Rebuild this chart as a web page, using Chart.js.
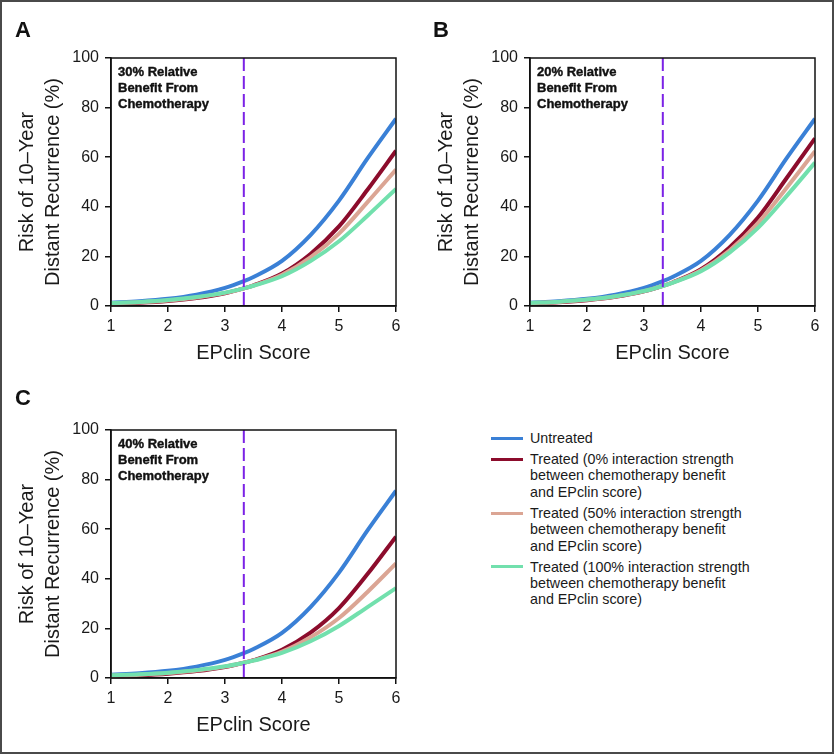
<!DOCTYPE html>
<html>
<head>
<meta charset="utf-8">
<script src="https://cdn.jsdelivr.net/npm/chart.js@4.4.1/dist/chart.umd.min.js"></script>
<style>
  body { margin: 0; background: #fff; font-family: "Liberation Sans", Arial, sans-serif; color: #1a1a1a; }
  #frame { position: absolute; left: 0; top: 0; width: 834px; height: 754px; border: 2px solid #4a4a4a; box-sizing: border-box; }
  .panel { position: absolute; width: 415px; height: 372px; }
  .letter { position: absolute; font-weight: bold; font-size: 22px; line-height: 24px; color: #111; }
  #legend { position: absolute; left: 491px; top: 430px; font-size: 14.3px; line-height: 16.4px; }
  .item { display: flex; align-items: flex-start; margin-bottom: 4.6px; }
  .swatch { width: 32px; height: 3px; margin-top: 6.7px; margin-right: 7px; flex: none; }
</style>
</head>
<body>
<div id="frame"></div>
<div class="panel" style="left:0;top:0"><canvas id="chartA" width="415" height="372"></canvas></div>
<div class="panel" style="left:419px;top:0"><canvas id="chartB" width="415" height="372"></canvas></div>
<div class="panel" style="left:0;top:372px"><canvas id="chartC" width="415" height="372"></canvas></div>
<div class="letter" style="left:15px;top:18px">A</div>
<div class="letter" style="left:433px;top:18px">B</div>
<div class="letter" style="left:15px;top:386px">C</div>
<div id="legend"></div>

<script>
// EPclin score grid
var scores = [1, 1.5, 2, 2.5, 3, 3.33, 3.5, 4, 4.5, 5, 5.5, 6];
var cutoff = 3.33;

// same untreated curve in all panels
var untreated = [1.3, 1.9, 2.9, 4.6, 7.3, 10, 11.7, 18.2, 28.6, 42.5, 59.5, 75.5];

// A: 30% relative benefit
var treatedA0   = [0.91, 1.33, 2.04, 3.24, 5.17, 7.11, 8.34, 13.1, 21, 32.1, 46.9, 62.6];
var treatedA50  = [1.05, 1.49, 2.22, 3.42, 5.28, 7.11, 8.25, 12.6, 19.6, 29.2, 41.9, 55];
var treatedA100 = [1.19, 1.65, 2.39, 3.59, 5.38, 7.11, 8.16, 12, 18.1, 26.1, 36.4, 47.2];

// B: 20% relative benefit
var treatedB0   = [1.04, 1.52, 2.33, 3.7, 5.89, 8.08, 9.48, 14.8, 23.6, 35.7, 51.5, 67.6];
var treatedB50  = [1.16, 1.66, 2.48, 3.84, 5.98, 8.08, 9.4, 14.4, 22.4, 33.4, 47.6, 62.4];
var treatedB100 = [1.25, 1.76, 2.59, 3.96, 6.05, 8.08, 9.34, 14, 21.5, 31.5, 44.3, 57.8];

// C: 40% relative benefit
var treatedC0   = [0.78, 1.14, 1.75, 2.79, 4.45, 6.13, 7.2, 11.4, 18.3, 28.2, 41.9, 57];
var treatedC50  = [0.96, 1.35, 1.98, 3.01, 4.59, 6.13, 7.08, 10.6, 16.4, 24.2, 34.7, 46.2];
var treatedC100 = [1.1, 1.51, 2.15, 3.18, 4.7, 6.13, 6.99, 10.1, 14.8, 21, 28.6, 36.2];

var seriesNames = [
    'Untreated',
    'Treated (0% interaction strength between chemotherapy benefit and EPclin score)',
    'Treated (50% interaction strength between chemotherapy benefit and EPclin score)',
    'Treated (100% interaction strength between chemotherapy benefit and EPclin score)'
];
var legendLines = [
    ['Untreated'],
    ['Treated (0% interaction strength', 'between chemotherapy benefit', 'and EPclin score)'],
    ['Treated (50% interaction strength', 'between chemotherapy benefit', 'and EPclin score)'],
    ['Treated (100% interaction strength', 'between chemotherapy benefit', 'and EPclin score)']
];
var colors = ['#3a80d6', '#8c0c2c', '#dba594', '#72e0ad'];
var cutoffColor = '#7b22e6';

var fontFamily = '"Liberation Sans", Arial, sans-serif';
var ink = '#1a1a1a';

function points(arr) {
    return scores.map(function (x, i) { return { x: x, y: arr[i] }; });
}

// box around the plot area + the bold note in the corner
var framePlugin = {
    id: 'frame',
    afterDraw: function (chart, args, opts) {
        var ctx = chart.ctx, a = chart.chartArea;
        ctx.save();
        ctx.strokeStyle = '#111';
        ctx.lineWidth = 1.5;
        ctx.strokeRect(a.left, a.top, a.right - a.left, a.bottom - a.top);
        ctx.fillStyle = '#111';
        ctx.font = 'bold 13px ' + fontFamily;
        ctx.textBaseline = 'middle';
        ctx.lineWidth = 0.4;
        opts.lines.forEach(function (t, i) {
            ctx.fillText(t, a.left + 7, a.top + 14.5 + i * 16);
            ctx.strokeText(t, a.left + 7, a.top + 14.5 + i * 16);
        });
        ctx.restore();
    }
};

function makeChart(id, note, series) {
    var all = [untreated].concat(series);
    var datasets = all.map(function (arr, i) {
        return {
            label: seriesNames[i],
            data: points(arr),
            borderColor: colors[i],
            borderWidth: 4,
            pointRadius: 0,
            cubicInterpolationMode: 'monotone',
            fill: false,
            order: 4 - i
        };
    });
    datasets.push({
        label: 'cutoff',
        data: [{ x: cutoff, y: 100 }, { x: cutoff, y: 0 }],
        borderColor: cutoffColor,
        borderWidth: 2,
        borderDash: [13, 5],
        pointRadius: 0,
        order: 0
    });

    return new Chart(document.getElementById(id).getContext('2d'), {
        type: 'line',
        data: { datasets: datasets },
        options: {
            responsive: false,
            animation: false,
            layout: { padding: { top: 58, right: 19, left: 0, bottom: 0 } },
            plugins: {
                legend: { display: false },
                tooltip: { enabled: false },
                frame: { lines: note }
            },
            scales: {
                x: {
                    type: 'linear',
                    min: 1,
                    max: 6,
                    afterFit: function (s) { s.height = 66; },
                    ticks: { stepSize: 1, color: ink, padding: 5, font: { size: 16, family: fontFamily } },
                    grid: { drawOnChartArea: false, tickLength: 6, color: '#111', lineWidth: 1.5 },
                    border: { color: '#111', width: 1.5 },
                    title: {
                        display: true,
                        text: 'EPclin Score',
                        color: ink,
                        font: { size: 20, family: fontFamily, lineHeight: 1.3 },
                        padding: { top: 0, bottom: 6 }
                    }
                },
                y: {
                    min: 0,
                    max: 100,
                    afterFit: function (s) { s.width = 111; },
                    ticks: { stepSize: 20, color: ink, padding: 6, font: { size: 16, family: fontFamily } },
                    grid: { drawOnChartArea: false, tickLength: 6, color: '#111', lineWidth: 1.5 },
                    border: { color: '#111', width: 1.5 },
                    title: {
                        display: true,
                        text: ['Risk of 10\u2013Year', 'Distant Recurrence (%)'],
                        color: ink,
                        font: { size: 20, family: fontFamily, lineHeight: 1.3 },
                        padding: { top: 14, bottom: 0 }
                    }
                }
            }
        },
        plugins: [framePlugin]
    });
}

makeChart('chartA', ['30% Relative', 'Benefit From', 'Chemotherapy'], [treatedA0, treatedA50, treatedA100]);
makeChart('chartB', ['20% Relative', 'Benefit From', 'Chemotherapy'], [treatedB0, treatedB50, treatedB100]);
makeChart('chartC', ['40% Relative', 'Benefit From', 'Chemotherapy'], [treatedC0, treatedC50, treatedC100]);

// legend drawn as html, bottom right
var legend = document.getElementById('legend');
legendLines.forEach(function (lines, i) {
    var item = document.createElement('div');
    item.className = 'item';
    var sw = document.createElement('div');
    sw.className = 'swatch';
    sw.style.background = colors[i];
    var txt = document.createElement('div');
    txt.innerHTML = lines.join('<br>');
    item.appendChild(sw);
    item.appendChild(txt);
    legend.appendChild(item);
});
</script>
</body>
</html>
